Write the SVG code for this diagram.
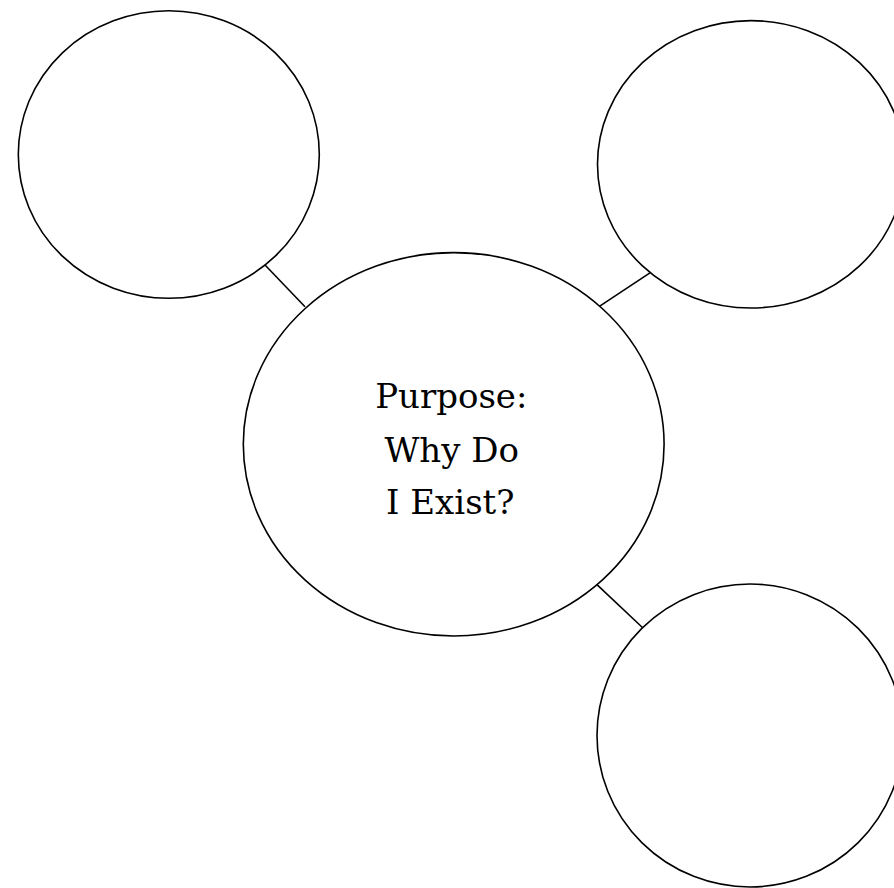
<svg xmlns="http://www.w3.org/2000/svg" width="894" height="888" viewBox="0 0 894 888">
<style>
.node{fill:#fff;stroke:#000;stroke-width:1.6}
.conn{stroke:#000;stroke-width:1.6;fill:none}
.lbl{font-family:"DejaVu Serif","Liberation Serif",serif;font-size:34px;fill:#000;text-anchor:middle}
</style>
<rect width="894" height="888" fill="#fff"/>
<g id="connectors">
<line class="conn" x1="264.3" y1="264.3" x2="305" y2="306.7"/>
<line class="conn" x1="650.7" y1="272.3" x2="599" y2="306.7"/>
<line class="conn" x1="596.7" y1="584.3" x2="644" y2="629"/>
</g>
<g id="node-top-left">
<ellipse class="node" cx="168.8" cy="154.5" rx="150.5" ry="143.8"/>
</g>
<g id="node-top-right">
<ellipse class="node" cx="751" cy="164.3" rx="153.5" ry="143.7"/>
</g>
<g id="node-bottom-right">
<ellipse class="node" cx="750" cy="735.5" rx="153" ry="151.5"/>
</g>
<g id="node-center">
<ellipse class="node" cx="453.7" cy="444.3" rx="210.4" ry="191.7"/>
<text class="lbl" x="451.3" y="408.3">Purpose:</text>
<text class="lbl" x="451.7" y="461.7">Why Do</text>
<text class="lbl" x="450.3" y="514">I Exist?</text>
</g>
</svg>
